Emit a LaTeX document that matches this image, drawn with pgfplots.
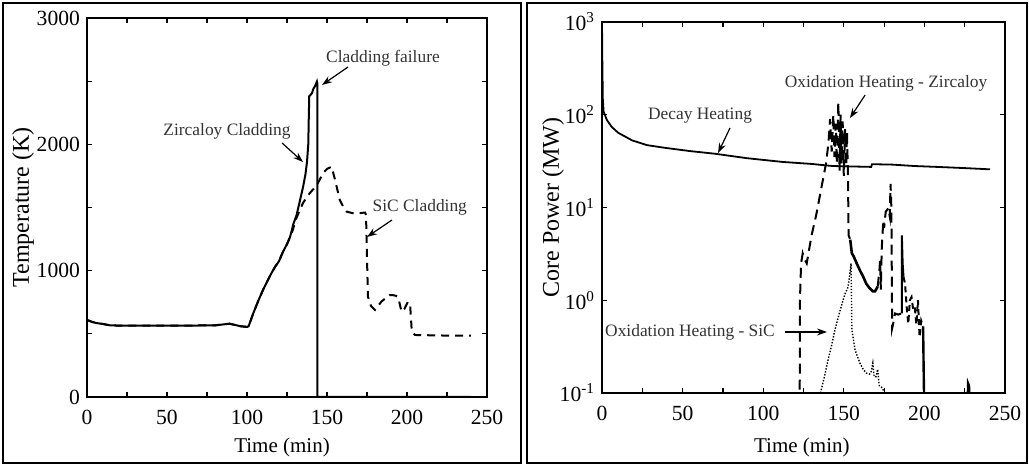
\documentclass[border=0pt]{standalone}
\usepackage{pgfplots}
\pgfplotsset{compat=1.18}
\usepackage{fontspec}
\setmainfont{Liberation Serif}
\usetikzlibrary{arrows.meta}

\begin{document}
\begin{tikzpicture}
\useasboundingbox (0,0) rectangle (514.5pt,232.5pt);
\tikzset{
  ann/.style={font=\fontsize{8.7}{10}\selectfont, text=black!80},
  arr/.style={-{Stealth[length=5pt,width=3.5pt]}, line width=0.6pt},
}
\pgfplotsset{
  mystyle/.style={
    scale only axis, anchor=south west,
    xmin=0, xmax=250, xtick={0,50,...,250}, minor x tick num=1,
    tick align=inside, major tick length=2.5pt, minor tick length=2.5pt,
    axis line style={line width=0.8pt},
    every tick/.append style={line width=0.6pt, black},
    tick label style={font=\fontsize{10.8}{12}\selectfont},
    xlabel style={font=\fontsize{10.5}{12}\selectfont},
    ylabel style={font=\fontsize{12}{14}\selectfont},
    /pgf/number format/assume math mode=true,
    /pgf/number format/1000 sep={},
    xticklabel style={yshift=-3pt},
    scaled ticks=false,
  },
}
\draw[line width=1.1pt] (1.5pt,1pt) rectangle (260.5pt,231pt);
\draw[line width=1.1pt] (263.5pt,1pt) rectangle (513.5pt,231pt);

% ---------------- Left: temperature ----------------
\begin{axis}[mystyle,
  at={(43.5pt,34pt)}, width=200pt, height=189.5pt,
  ymin=0, ymax=3000, ytick={0,1000,2000,3000}, minor y tick num=1,
  xlabel={Time (min)}, ylabel={Temperature (K)},
  xlabel style={at={(axis description cs:0.4875,-0.132)}, anchor=center},
  ylabel style={at={(axis description cs:-0.16,0.5)}, anchor=center},
]
\addplot[black, line width=1pt] coordinates {
(0,610)(3,595)(6,585)(10,578)(14,568)(20,565)(40,565)(60,565)(80,567)(89,580)(92,572)(96,560)(100,555)(101,560)
(104,665)(107,760)(110,847)(114,950)(117.5,1030)(120,1075)(122.5,1150)(125,1210)(127,1270)(129,1370)
(131,1440)(133,1550)(135,1660)(136.5,1760)(137.5,1860)(138.3,2000)(138.6,2200)(138.9,2380)(139.6,2390)
(140.6,2405)(141.5,2440)(142.5,2460)(143.7,2497)(144,2480)(144,0)(240,0)
};
\addplot[black, line width=1pt, dash pattern=on 4pt off 3pt] coordinates {
(0,610)(3,595)(6,585)(10,578)(14,568)(20,565)(40,565)(60,565)(80,567)(89,580)(92,572)(96,560)(100,555)(101,560)
(104,665)(107,760)(110,847)(114,950)(117.5,1030)(120,1075)(122.5,1150)(125,1210)(128,1298)(131,1420)
(135,1536)(139,1610)(143.7,1678)(147.6,1773)(150,1805)(152.9,1823)(155,1720)(158,1560)(160,1510)(162.3,1467)
(166,1455)(170,1455)(173.8,1460)(174.4,1440)(175,1100)(175.6,794)(177.5,720)(180,689)(184,755)(189,807)
(192,805)(194.4,794)(196.6,675)(198.5,700)(200.6,755)(202,720)(203,517)(205,491)(220,487)(240,485)
};
\node[ann] at (axis cs:87.5,2106) {Zircaloy Cladding};
\draw[arr] (axis cs:121.9,2011) -- (axis cs:135,1860);
\node[ann] at (axis cs:185,2684) {Cladding failure};
\draw[arr] (axis cs:163.1,2612) -- (axis cs:146.9,2470);
\node[ann] at (axis cs:208,1504) {SiC Cladding};
\draw[arr] (axis cs:190.6,1401) -- (axis cs:175,1267);
\end{axis}

% ---------------- Right: core power ----------------
\begin{axis}[mystyle,
  at={(301pt,36pt)}, width=201.5pt, height=185.5pt,
  ymode=log, ymin=0.1, ymax=1000,
  ytick={0.1,1,10,100,1000},
  yticklabels={10\textsuperscript{-1},10\textsuperscript{0},10\textsuperscript{1},10\textsuperscript{2},10\textsuperscript{3}},
  yminorticks=false,
  xlabel={Time (min)}, ylabel={Core Power (MW)},
  xlabel style={at={(axis description cs:0.496,-0.1456)}, anchor=center},
  ylabel style={at={(axis description cs:-0.1216,0.5)}, anchor=center},
]
% Decay heating
\addplot[black, line width=0.9pt] coordinates {
(0,1000)(0.2,400)(0.5,150)(1,108)(3,88)(6,74)(10,64)(18.6,53)(28,47)(39,44)(55,40.5)(70,38)(90,34)
(112,31)(130,29.5)(143,28)(155,27.7)(167,27.4)(167.5,29.3)(180,29)(194,28)(210,27.3)(225,26.6)(240.7,25.8)
};
% Oxidation heating - Zircaloy
\addplot[black, line width=1pt, dash pattern=on 5pt off 3pt] coordinates {
(122.5,0.01)(122.8,1.0)(123.5,2.5)(124.5,3.2)(125.5,2.8)(127,2.5)(130,5)(133,8.5)(136,16)(139,30)(140.5,50)
(141.5,90)(142.5,40)(143.5,100)(144.2,35)(145,80)(145.7,30)(146.6,138)(147.4,25)(148,100)(148.6,30)
(149.3,85)(150,22)(150.8,70)(151.5,28)(152,65)(152.6,20)(153,5)(154,4.5)
};
\addplot[black, line width=1.3pt] coordinates {
(154,4.5)(155,3.2)(156,3)(158,2.5)(160,2.1)(162,1.8)(164,1.5)(166,1.35)(168,1.25)(169.4,1.25)(171,1.4)
};
\addplot[black, line width=1pt, dash pattern=on 5pt off 3pt] coordinates {
(171,1.4)(172,2)(172.5,2.7)(173,1.3)(173.5,3.5)(174.5,7.3)(175,6)(176,9)(177.6,9.8)(178.5,8)(179,18)(179.5,10)
(179.7,3)(180,0.5)(181,0.6)(181.8,0.72)(183.7,0.7)(185.5,0.72)
};
\addplot[black, line width=1pt] coordinates {(186,0.72)(186,5)(186.5,2.5)(187,1.8)};
\addplot[black, line width=1pt, dash pattern=on 3pt off 2pt] coordinates {
(187,1.8)(188,1.5)(189,0.85)(190,0.56)(191,1.0)(192,1.08)(193,0.8)(194,0.85)(195,0.55)(196,1.0)(197,0.4)
(198,0.6)(199.2,0.52)
};
\addplot[black, line width=1.2pt] coordinates {(199.2,0.52)(199.5,0.2)(200,0.05)};
\addplot[black, line width=1pt] coordinates {(226.5,0.05)(227,0.13)(227.8,0.12)(228.2,0.05)};
% Oxidation heating - SiC
\addplot[black, line width=0.7pt, dash pattern=on 0.7pt off 0.8pt] coordinates {
(135.5,0.1)(138,0.15)(140.3,0.23)(142.5,0.33)(144.5,0.48)(147,0.7)(149.5,1.0)(151,1.2)(152.6,1.38)(153.5,1.8)
(154.5,2.5)(155,0.48)(157,0.29)(160,0.21)(162,0.18)(164,0.164)(166,0.16)(167,0.17)(168,0.21)(168.8,0.15)
(170,0.15)(171,0.18)(172,0.12)(173.5,0.115)(175.6,0.1)(176.5,0.09)
};
\node[ann] at (axis cs:60.8,97) {Decay Heating};
\draw[arr] (axis cs:79.4,72) -- (axis cs:72,38.7);
\node[ann] at (axis cs:176.2,220) {Oxidation Heating - Zircaloy};
\draw[arr] (axis cs:163.2,163) -- (axis cs:153.8,92);
\node[ann] at (axis cs:54.6,0.455) {Oxidation Heating - SiC};
\draw[arr] (axis cs:113.5,0.455) -- (axis cs:139.6,0.455);
\end{axis}
\end{tikzpicture}
\end{document}
